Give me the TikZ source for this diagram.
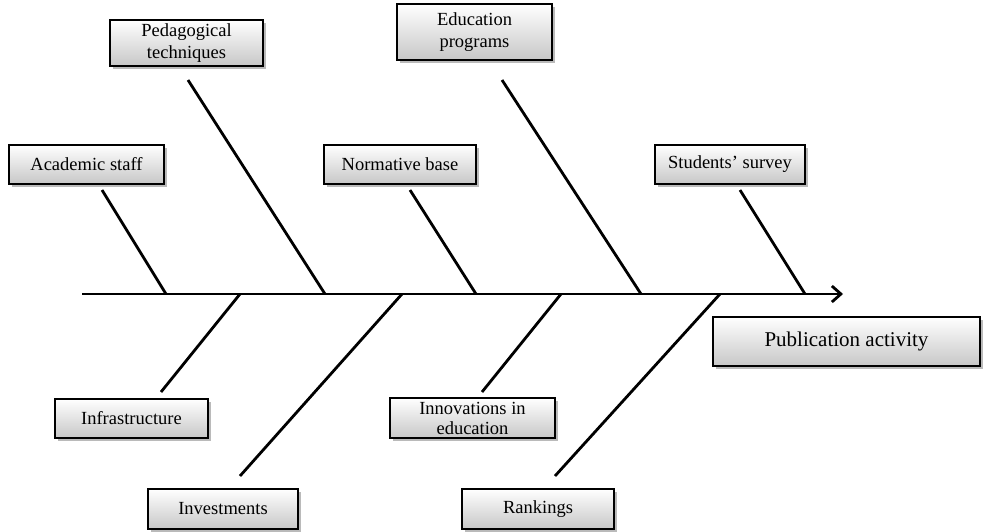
\documentclass[tikz,border=0pt]{standalone}
\usepackage{fontspec}
\setmainfont{Liberation Serif}
\usetikzlibrary{arrows.meta,shadows}
\begin{document}
\begin{tikzpicture}[x=1pt,y=-1pt,
  cause/.style={draw=black,line width=1.8pt,top color=white,bottom color=black!22,
    drop shadow={shadow xshift=2.5pt,shadow yshift=-2.5pt,fill=black!45,opacity=0.6},
    font=\fontsize{18.5}{22}\selectfont,align=center,inner sep=0pt},
  bone/.style={line width=2.8pt}]
\useasboundingbox (0,0) rectangle (983,531);
% boxes
\node[cause,minimum width=153pt,minimum height=46pt] (ped) at (186.5,43) {Pedagogical\\techniques};
\node[cause,minimum width=155pt,minimum height=56pt] (edu) at (474.5,32) {Education\\programs};
\node[cause,minimum width=155pt,minimum height=39pt] (aca) at (86.5,164.5) {Academic staff};
\node[cause,minimum width=152pt,minimum height=39pt] (nor) at (400,164.5) {Normative base};
\node[cause,minimum width=150pt,minimum height=39pt] (stu) at (730,164.5) {Students’ survey};
\node[cause,minimum width=267pt,minimum height=49pt,font=\fontsize{21}{25}\selectfont] (pub) at (846.5,341.5) {Publication activity};
\node[cause,minimum width=153pt,minimum height=39pt] (inf) at (131.5,418.5) {Infrastructure};
\node[cause,minimum width=165pt,minimum height=40pt,font=\fontsize{18.5}{20}\selectfont] (inn) at (472.5,418) {Innovations in\\education};
\node[cause,minimum width=150pt,minimum height=40pt] (inv) at (223,509) {Investments};
\node[cause,minimum width=152pt,minimum height=40pt] (ran) at (538,509) {Rankings};
% spine
\coordinate (s0) at (82,294);
\coordinate (s1) at (843,294);
\draw[bone,-{Straight Barb[length=9pt,width=16pt,line width=2.8pt]}] (s0) -- (s1);
% bone end points
\coordinate (a1) at (102,190); \coordinate (a2) at (166,294);
\coordinate (p1) at (188,80);  \coordinate (p2) at (325,294);
\coordinate (n1) at (410,190); \coordinate (n2) at (476,294);
\coordinate (e1) at (502,80);  \coordinate (e2) at (641,294);
\coordinate (t1) at (740,190); \coordinate (t2) at (805,294);
\coordinate (i1) at (240,294); \coordinate (i2) at (161,392);
\coordinate (v1) at (402,294); \coordinate (v2) at (240,476);
\coordinate (o1) at (561,294); \coordinate (o2) at (482,392);
\coordinate (r1) at (720,294); \coordinate (r2) at (555,476);
\draw[bone] (a1) -- (a2);
\draw[bone] (p1) -- (p2);
\draw[bone] (n1) -- (n2);
\draw[bone] (e1) -- (e2);
\draw[bone] (t1) -- (t2);
\draw[bone] (i1) -- (i2);
\draw[bone] (v1) -- (v2);
\draw[bone] (o1) -- (o2);
\draw[bone] (r1) -- (r2);
\end{tikzpicture}
\end{document}
